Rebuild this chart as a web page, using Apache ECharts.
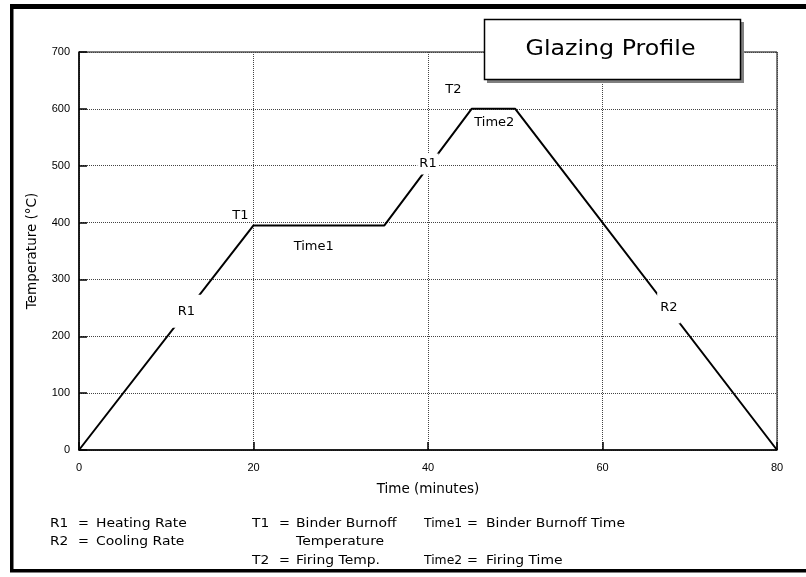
<!DOCTYPE html>
<html>
<head>
<meta charset="utf-8">
<script src="https://cdn.jsdelivr.net/npm/echarts@6/dist/echarts.min.js"></script>
<style>
html,body{margin:0;padding:0;background:#fff;}
#chart{width:806px;height:577px;}
</style>
</head>
<body>
<div id="chart"></div>
<script>
// ---- data ----
const times = [0, 20, 35, 45, 50, 80];
const temps = [0, 395, 395, 600, 600, 0];

const annotTexts = ['R1', 'T1', 'Time1', 'R1', 'T2', 'Time2', 'R2'];
const annotX = [12.3, 18.5, 26.9, 40.0, 42.9, 47.6, 67.6];
const annotY = [244, 413, 358, 503, 634, 576, 250];

const titleText = 'Glazing Profile';
const xName = 'Time (minutes)';
const yName = 'Temperature (°C)';

const keySymbols = ['R1', 'R2', 'T1', '', 'T2', 'Time1', 'Time2'];
const keyDescs = ['Heating Rate', 'Cooling Rate', 'Binder Burnoff', 'Temperature', 'Firing Temp.', 'Binder Burnoff Time', 'Firing Time'];

// ---- styles / layout (not data) ----
const annotPad = [[10, 6], [0, 0], [0, 0], [4, 2], [0, 0], [0, 0], [9, 3]];
const keyCol = [0, 0, 1, 1, 1, 2, 2];
const keyRow = [0, 1, 0, 1, 2, 0, 2];
const colSymX = [50, 252, 424];
const colEqX = [78, 279, 467];
const colDescX = [96, 296, 486];
const rowY = [524, 542, 561];

const chart = echarts.init(document.getElementById('chart'), null, {renderer: 'canvas'});

const lineData = times.map((t, i) => [t, temps[i]]);
const annotData = annotTexts.map((t, i) => {
  const boxed = t.charAt(0) === 'R';
  const lbl = {formatter: t, padding: annotPad[i]};
  if (boxed) lbl.backgroundColor = '#ffffff';
  return {value: [annotX[i], annotY[i]], label: lbl};
});

const keyFont = '13px "DejaVu Sans"';
const graphics = [];
// outer frame
graphics.push({type: 'rect', z: 100, shape: {x: 10, y: 4, width: 796, height: 5}, style: {fill: '#000'}});
graphics.push({type: 'rect', z: 100, shape: {x: 10, y: 4, width: 3.5, height: 568}, style: {fill: '#000'}});
graphics.push({type: 'rect', z: 100, shape: {x: 10, y: 569, width: 796, height: 3.5}, style: {fill: '#000'}});
// title box with shadow
graphics.push({type: 'rect', z: 100, shape: {x: 487, y: 22, width: 257, height: 61}, style: {fill: '#808080'}});
graphics.push({type: 'rect', z: 101, shape: {x: 484.5, y: 19.5, width: 256, height: 60}, style: {fill: '#fff', stroke: '#000', lineWidth: 1.5}});
graphics.push({type: 'text', z: 102, x: 610.5, y: 50, scaleX: 1.13,
  style: {text: titleText, x: 0, y: 0, font: '21px "DejaVu Sans"', fill: '#000', textAlign: 'center', textVerticalAlign: 'middle'}});
// key text
keySymbols.forEach((s, i) => {
  const c = keyCol[i], r = keyRow[i];
  if (s) {
    graphics.push({type: 'text', z: 100, x: colSymX[c], y: rowY[r], scaleX: s.length > 2 ? 0.95 : 1.06,
      style: {text: s, x: 0, y: 0, font: keyFont, fill: '#000', textVerticalAlign: 'middle'}});
    graphics.push({type: 'text', z: 100, x: colEqX[c], y: rowY[r],
      style: {text: '=', x: 0, y: 0, font: keyFont, fill: '#000', textVerticalAlign: 'middle'}});
  }
  graphics.push({type: 'text', z: 100, x: colDescX[c], y: rowY[r], scaleX: 1.07,
    style: {text: keyDescs[i], x: 0, y: 0, font: keyFont, fill: '#000', textVerticalAlign: 'middle'}});
});

const axisLabelStyle = {color: '#000', fontFamily: '"Liberation Sans", Arial', fontSize: 11};
const splitStyle = {show: true, lineStyle: {color: '#444', width: 1, type: [1, 1]}};

chart.setOption({
  animation: false,
  backgroundColor: '#fff',
  grid: {left: 79, right: 29, top: 52, bottom: 127, show: true, borderColor: '#000', borderWidth: 1, containLabel: false},
  xAxis: {
    type: 'value', min: 0, max: 80, interval: 20,
    name: xName, nameLocation: 'middle', nameGap: 32,
    nameTextStyle: {color: '#000', fontFamily: '"DejaVu Sans"', fontSize: 13.5},
    axisLine: {show: true, lineStyle: {color: '#000', width: 1.5}},
    axisTick: {show: true, inside: true, length: 8, lineStyle: {color: '#000', width: 1.5}},
    axisLabel: Object.assign({margin: 12}, axisLabelStyle),
    splitLine: splitStyle
  },
  yAxis: {
    type: 'value', min: 0, max: 700, interval: 100,
    name: yName, nameLocation: 'middle', nameGap: 40, nameRotate: 90,
    nameTextStyle: {color: '#000', fontFamily: '"DejaVu Sans"', fontSize: 13.5},
    axisLine: {show: true, lineStyle: {color: '#000', width: 1.5}},
    axisTick: {show: true, inside: true, length: 8, lineStyle: {color: '#000', width: 1.5}},
    axisLabel: Object.assign({margin: 9}, axisLabelStyle),
    splitLine: splitStyle
  },
  graphic: graphics,
  series: [
    {
      type: 'line', data: lineData, symbol: 'none', silent: true, z: 2,
      lineStyle: {color: '#000', width: 2}
    },
    {
      type: 'scatter', data: annotData, symbolSize: 0, silent: true, z: 10,
      itemStyle: {opacity: 1},
      label: {show: true, position: 'inside', color: '#000', fontFamily: '"DejaVu Sans"', fontSize: 13}
    }
  ]
});
</script>
</body>
</html>
